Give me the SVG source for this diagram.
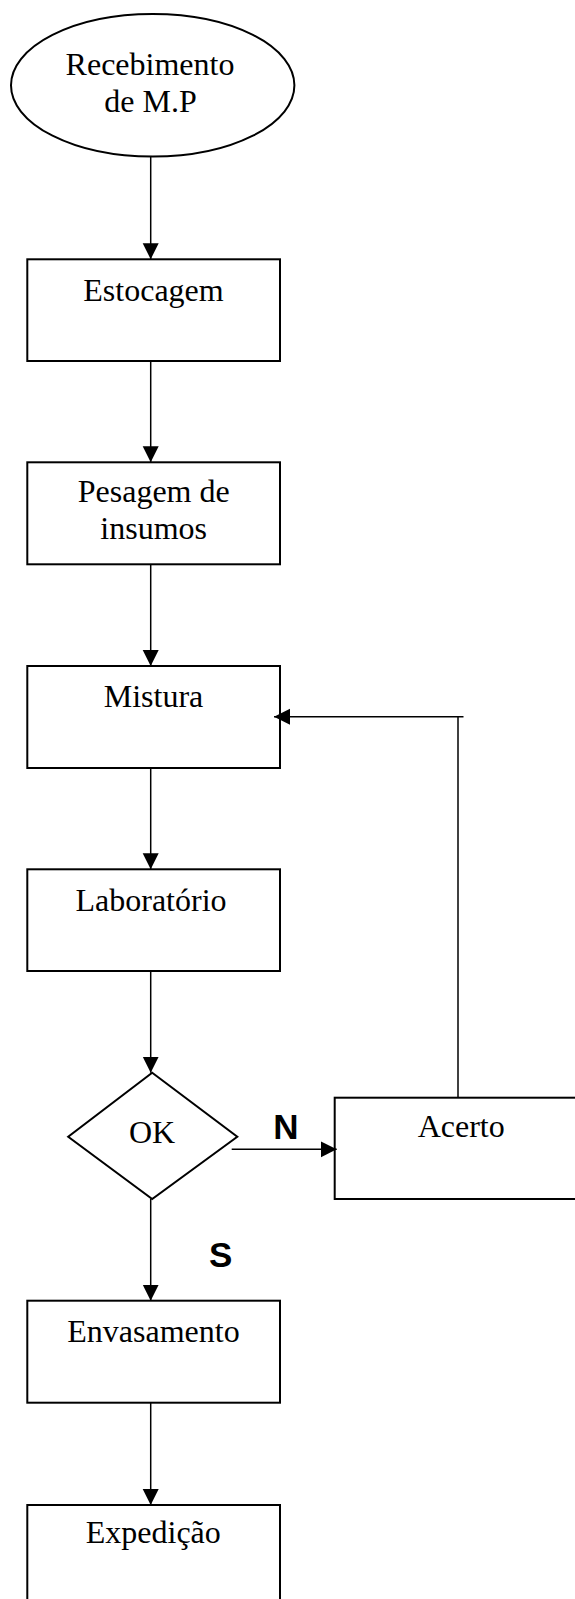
<svg xmlns="http://www.w3.org/2000/svg" width="575" height="1599" viewBox="0 0 575 1599">
<style>
.shape{fill:#fff;stroke:#000;stroke-width:2}
.t{font-family:"Liberation Serif","Times New Roman",serif;font-size:32px;fill:#000;text-anchor:middle}
.b{font-family:"Liberation Sans",Arial,sans-serif;font-size:35px;font-weight:bold;fill:#000;text-anchor:middle}
.c{fill:none;stroke:#000;stroke-width:1.5}
</style>
<defs>
<marker id="ah" markerUnits="userSpaceOnUse" markerWidth="17" markerHeight="17" refX="16" refY="8" orient="auto">
<path d="M0,0 L16,8 L0,16 z" fill="#000"/>
</marker>
</defs>
<rect width="575" height="1599" fill="#fff"/>
<g id="recebimento">
<ellipse class="shape" cx="152.7" cy="85.3" rx="141.7" ry="71.3"/>
<text class="t" x="150" y="75">Recebimento</text>
<text class="t" x="150.5" y="111.7">de M.P</text>
</g>
<g id="estocagem">
<rect class="shape" x="27.3" y="259.3" width="252.7" height="101.7"/>
<text class="t" x="153.5" y="301">Estocagem</text>
</g>
<g id="pesagem">
<rect class="shape" x="27.3" y="462.3" width="252.7" height="102"/>
<text class="t" x="153.7" y="501.7">Pesagem de</text>
<text class="t" x="153.7" y="539.3">insumos</text>
</g>
<g id="mistura">
<rect class="shape" x="27.3" y="666" width="252.7" height="102"/>
<text class="t" x="153.5" y="706.7">Mistura</text>
</g>
<g id="laboratorio">
<rect class="shape" x="27.3" y="869.3" width="252.7" height="101.7"/>
<text class="t" x="151" y="910.7">Laboratório</text>
</g>
<g id="ok">
<polygon class="shape" points="152.2,1072.7 237.3,1136.7 152.2,1199 68.2,1136.7"/>
<text class="t" x="152" y="1143.3">OK</text>
</g>
<g id="acerto">
<rect class="shape" x="334.7" y="1097.7" width="253" height="101.3"/>
<text class="t" x="461.2" y="1137.3">Acerto</text>
</g>
<g id="envasamento">
<rect class="shape" x="27.3" y="1300.7" width="252.7" height="102"/>
<text class="t" x="153.5" y="1342">Envasamento</text>
</g>
<g id="expedicao">
<rect class="shape" x="27.3" y="1505" width="252.7" height="102"/>
<text class="t" x="153.3" y="1543.3">Expedição</text>
</g>
<g id="connectors">
<line class="c" x1="150.7" y1="156.7" x2="150.7" y2="259.3" marker-end="url(#ah)"/>
<line class="c" x1="150.7" y1="361" x2="150.7" y2="462.3" marker-end="url(#ah)"/>
<line class="c" x1="150.7" y1="564.3" x2="150.7" y2="666" marker-end="url(#ah)"/>
<line class="c" x1="150.7" y1="768" x2="150.7" y2="869.3" marker-end="url(#ah)"/>
<line class="c" x1="150.7" y1="971" x2="150.7" y2="1072.7" marker-end="url(#ah)"/>
<line class="c" x1="150.7" y1="1199" x2="150.7" y2="1300.7" marker-end="url(#ah)"/>
<line class="c" x1="150.7" y1="1402.7" x2="150.7" y2="1505" marker-end="url(#ah)"/>
<line class="c" x1="231.7" y1="1149.3" x2="336.7" y2="1149.3" marker-end="url(#ah)"/>
<line class="c" x1="458" y1="1097.7" x2="458" y2="716.7"/>
<line class="c" x1="463.5" y1="716.7" x2="274" y2="716.7" marker-end="url(#ah)"/>
<text class="b" x="285.8" y="1139.3">N</text>
<text class="b" x="220.8" y="1267">S</text>
</g>
</svg>
